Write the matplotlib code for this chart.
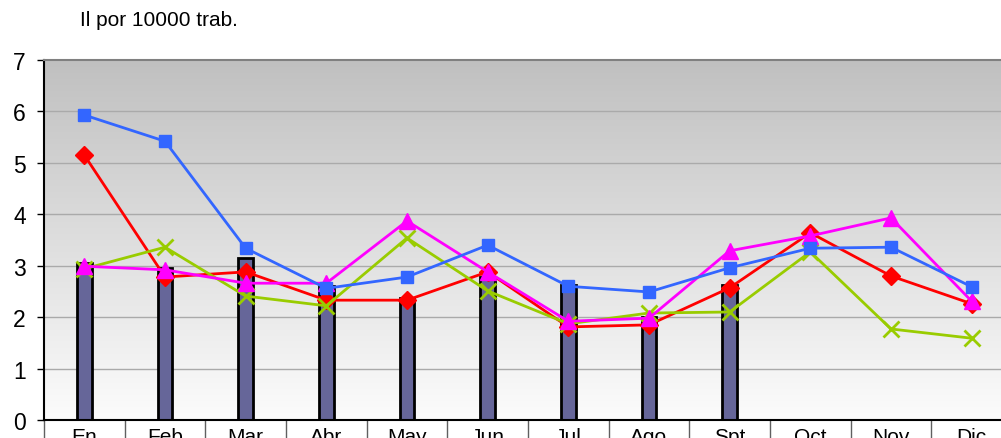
import numpy as np
import matplotlib as mpl
mpl.use('Agg')
import matplotlib.pyplot as plt
from matplotlib.colors import LinearSegmentedColormap

plt.rcParams['font.family'] = ['Liberation Sans', 'DejaVu Sans']

# meses
meses = ['En', 'Feb', 'Mar', 'Abr', 'May', 'Jun', 'Jul', 'Ago', 'Spt', 'Oct', 'Nov', 'Dic']
# barras (solo hasta Spt)
barras = [3.05, 2.95, 3.15, 2.6, 2.38, 2.78, 2.62, 2.0, 2.63]
# series de lineas
azul = [5.93, 5.42, 3.34, 2.56, 2.78, 3.40, 2.60, 2.49, 2.96, 3.34, 3.36, 2.59]
rojo = [5.15, 2.78, 2.88, 2.33, 2.33, 2.88, 1.81, 1.85, 2.57, 3.64, 2.80, 2.26]
magenta = [2.99, 2.92, 2.66, 2.66, 3.87, 2.88, 1.92, 1.98, 3.29, 3.58, 3.93, 2.31]
verde = [2.94, 3.36, 2.41, 2.22, 3.54, 2.51, 1.87, 2.08, 2.10, 3.27, 1.77, 1.59]

fig = plt.figure(figsize=(10.01, 4.39), dpi=100)
ax = fig.add_axes([44/1001, 18/439, 968/1001, 360/439])

x = np.arange(len(meses))

# fondo degradado gris
cmap = LinearSegmentedColormap.from_list('fondo', ['#fcfcfc', '#c0c0c0'])
grad = np.linspace(0, 1, 256).reshape(-1, 1)
ax.imshow(grad, aspect='auto', cmap=cmap, origin='lower',
          extent=(-0.5, 11.5, 0, 7), zorder=0)

ax.set_yticks(range(8))
for v in range(1, 7):
    ax.axhline(v, color='#aaaaaa', lw=1, zorder=1)

ax.bar(x[:len(barras)], barras, width=0.18, color='#666699',
       edgecolor='black', linewidth=2, zorder=2)

ax.plot(x, rojo, color='#ff0000', lw=2, marker='D', ms=9, zorder=3)
ax.plot(x, verde, color='#99cc00', lw=2, marker='x', ms=11, mew=2, zorder=4)
ax.plot(x, magenta, color='#ff00ff', lw=2, marker='^', ms=11, zorder=5)
ax.plot(x, azul, color='#3366ff', lw=2, marker='s', ms=9, zorder=6)

ax.set_xlim(-0.5, 11.5)
ax.set_ylim(0, 7)

ax.spines['right'].set_visible(False)
ax.spines['top'].set_color('#808080')
ax.spines['top'].set_linewidth(1.5)
ax.spines['left'].set_linewidth(1.5)
ax.spines['bottom'].set_linewidth(1.5)

ax.set_xticks(x)
ax.set_xticklabels(meses, fontsize=15)
ax.set_xticks(np.arange(-0.5, 12, 1), minor=True)
ax.tick_params(axis='x', which='major', length=0, pad=5)
ax.tick_params(axis='x', which='minor', length=20, color='#606060', width=1)
ax.tick_params(axis='y', labelsize=16.5, length=5, width=1, pad=8)

fig.text(80/1001, 1 - 21/439, 'Il por 10000 trab.', fontsize=15, va='center', ha='left')

plt.savefig('out.png', dpi=100)
